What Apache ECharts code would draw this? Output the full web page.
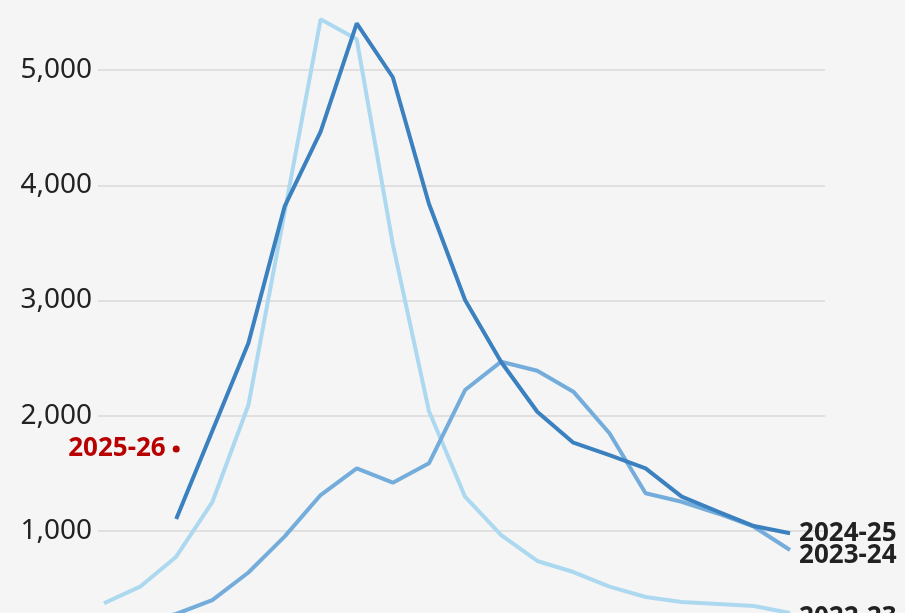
<!DOCTYPE html>
<html>
<head>
<meta charset="utf-8">
<script src="https://cdn.jsdelivr.net/npm/echarts@6/dist/echarts.min.js"></script>
<style>
  html, body { margin: 0; padding: 0; background: #f5f5f5; }
  #chart { width: 905px; height: 613px; }
</style>
</head>
<body>
<div id="chart"></div>
<script>
  // week index along the season (x axis is off the bottom of the picture)
  const weeks = [0, 1, 2, 3, 4, 5, 6, 7, 8, 9, 10, 11, 12, 13, 14, 15, 16, 17, 18, 19]
  const yTicks = [0, 1000, 2000, 3000, 4000, 5000, 6000]

  // 各季节数据
  const s2022 = [373, 517, 777, 1250, 2093, 3760, 5440, 5266, 3487, 2041, 1298, 965, 740, 644, 517, 427, 384, 367, 349, 288]
  const s2023 = [150, 200, 280, 400, 640, 951, 1312, 1544, 1419, 1587, 2223, 2469, 2391, 2209, 1848, 1327, 1254, 1152, 1037, 835]
  const s2024 = [null, null, 1104, 1868, 2631, 3814, 4465, 5405, 4937, 3840, 3004, 2466, 2035, 1766, 1659, 1544, 1298, 1169, 1043, 980]
  const s2025 = [null, null, 1711]

  const pairs = (arr) => arr.map((v, i) => [weeks[i], v])

  let mycharts = echarts.init(document.getElementById('chart'))

  const endLabel = (dy) => ({
    show: true,
    formatter: '{a}',
    color: '#222',
    fontSize: 26,
    fontWeight: 'bold',
    fontFamily: 'Noto Sans',
    distance: 9,
    offset: [0, dy]
  })

  mycharts.setOption({
    animation: false,
    backgroundColor: '#f5f5f5',
    grid: {
      left: 98,
      right: 80,
      top: -45.25,
      bottom: -33.25,
      outerBoundsMode: 'none',
      containLabel: false
    },
    xAxis: {
      type: 'value',
      min: -0.166,
      max: 19.969,
      show: false
    },
    yAxis: {
      type: 'value',
      min: yTicks[0],
      max: yTicks[yTicks.length - 1],
      interval: 1000,
      axisLine: { show: false },
      axisTick: { show: false },
      axisLabel: {
        color: '#222',
        fontSize: 28,
        fontFamily: 'Noto Sans',
        margin: 6,
        formatter: (v) => v.toLocaleString('en-GB')
      },
      splitLine: {
        lineStyle: { color: '#d9d9d9', width: 1.5 }
      }
    },
    series: [
      {
        name: '2022-23',
        type: 'line',
        data: pairs(s2022),
        symbol: 'none',
        lineStyle: { color: '#acd9ef', width: 4 },
        itemStyle: { color: '#acd9ef' },
        endLabel: endLabel(5)
      },
      {
        name: '2023-24',
        type: 'line',
        data: pairs(s2023),
        symbol: 'none',
        lineStyle: { color: '#74addb', width: 4 },
        itemStyle: { color: '#74addb' },
        endLabel: endLabel(6)
      },
      {
        name: '2024-25',
        type: 'line',
        data: pairs(s2024),
        symbol: 'none',
        lineStyle: { color: '#3b80bf', width: 4 },
        itemStyle: { color: '#3b80bf' },
        endLabel: endLabel(0)
      },
      {
        name: '2025-26',
        type: 'line',
        data: pairs(s2025),
        symbol: 'circle',
        symbolSize: 7,
        showSymbol: true,
        itemStyle: { color: '#b80000' },
        lineStyle: { color: '#b80000', width: 4 },
        label: {
          show: true,
          position: 'left',
          distance: 7,
          formatter: '{a}',
          color: '#b80000',
          fontSize: 26,
          fontWeight: 'bold',
          fontFamily: 'Noto Sans'
        }
      }
    ]
  })
</script>
</body>
</html>
